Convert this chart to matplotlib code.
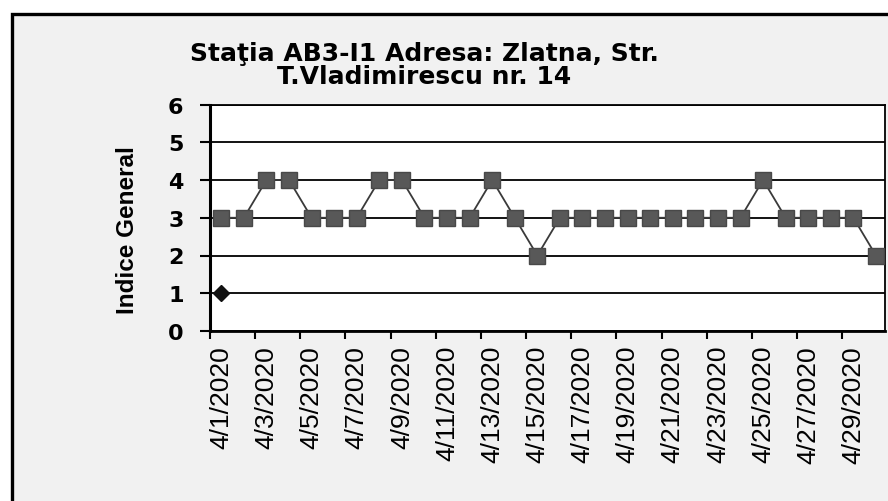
import matplotlib

matplotlib.use("Agg")
import matplotlib.pyplot as plt  # noqa: E402
import numpy as np  # noqa: E402
from matplotlib.patches import Rectangle  # noqa: E402

DATES = [
    "4/1/2020", "4/2/2020", "4/3/2020", "4/4/2020", "4/5/2020", "4/6/2020",
    "4/7/2020", "4/8/2020", "4/9/2020", "4/10/2020", "4/11/2020", "4/12/2020",
    "4/13/2020", "4/14/2020", "4/15/2020", "4/16/2020", "4/17/2020", "4/18/2020",
    "4/19/2020", "4/20/2020", "4/21/2020", "4/22/2020", "4/23/2020", "4/24/2020",
    "4/25/2020", "4/26/2020", "4/27/2020", "4/28/2020", "4/29/2020", "4/30/2020",
]
# daily general index (square markers)
INDICE = [3, 3, 4, 4, 3, 3, 3, 4, 4, 3, 3, 3, 4, 3, 2,
          3, 3, 3, 3, 3, 3, 3, 3, 3, 4, 3, 3, 3, 3, 2]
# second series: only one value, on the first day (diamond)
REF_DATE = ["4/1/2020"]
REF_VAL = [1]

TITLE_1 = "Staţia AB3-I1 Adresa: Zlatna, Str."
TITLE_2 = "T.Vladimirescu nr. 14"


def main() -> None:
    W, H = 888, 502
    fig = plt.figure(figsize=(W / 100, H / 100), dpi=100, facecolor="white")

    # scanned page frame round the chart, kept under the axes
    fig.patches.append(Rectangle((12 / W, -0.1), 1.2, 1.1 - 15 / H,
                                 transform=fig.transFigure, facecolor="#f1f1f1",
                                 edgecolor="black", linewidth=2.4, zorder=-10))

    ax = fig.add_axes([210 / W, 1 - 332 / H, 675 / W, 226.5 / H])
    ax.set_zorder(5)
    ax.set_facecolor("white")

    x = np.arange(len(DATES))
    ax.plot(x, INDICE, color="#3a3a3a", lw=1.3, marker="s", ms=12,
            mfc="#585858", mec="#484848", zorder=3, clip_on=False)
    xr = [DATES.index(d) for d in REF_DATE]
    ax.plot(xr, REF_VAL, color="black", lw=1.3, marker="D", ms=8.5,
            mfc="#111111", mec="#111111", zorder=4, clip_on=False)

    ax.set_xlim(-0.5, 29.4)
    ax.set_ylim(0, 6)
    ax.set_yticks(range(0, 7))
    ax.tick_params(axis="y", length=7, width=1.5, pad=12, labelsize=16,
                   direction="out")
    for t in ax.get_yticklabels():
        t.set_fontweight("bold")
        t.set_family("DejaVu Sans")
    ax.grid(axis="y", color="black", lw=1.3)
    ax.set_axisbelow(True)

    # category boundaries every 2 days as ticks, labels on the odd days
    ax.set_xticks(np.arange(-0.5, 29, 2))
    ax.set_xticklabels([])
    ax.tick_params(axis="x", which="major", length=6, width=1.5, direction="out")
    ax.set_xticks(x[::2], minor=True)
    ax.set_xticklabels(DATES[::2], minor=True, rotation=90, fontsize=19,
                       family="Liberation Sans", va="top")
    ax.tick_params(axis="x", which="minor", length=0, pad=10)

    for side in ("top", "right"):
        ax.spines[side].set_linewidth(1.3)
    ax.spines["left"].set_linewidth(2.2)
    ax.spines["bottom"].set_linewidth(2.0)

    ax.set_ylabel("Indice General", fontsize=17.5, fontweight="bold",
                  family="Liberation Sans", va="center")
    ax.yaxis.set_label_coords((128 - 210) / 675, 0.45)

    fig.text(424 / W, 1 - 54 / H, TITLE_1, ha="center", va="center",
             fontsize=18, fontweight="bold", family="DejaVu Sans")
    fig.text(424 / W, 1 - 77 / H, TITLE_2, ha="center", va="center",
             fontsize=18, fontweight="bold", family="DejaVu Sans")

    fig.savefig("out.png", dpi=100)


if __name__ == "__main__":
    main()
